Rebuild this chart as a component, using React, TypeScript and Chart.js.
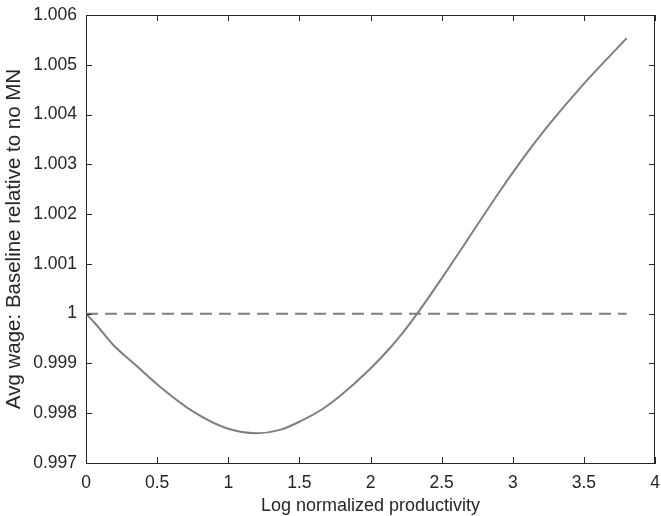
import React, { useEffect, useRef } from "react";
import { Chart, registerables } from "chart.js";

Chart.register(...registerables);

const productivity = [0, 0.0633, 0.1919, 0.3564, 0.5202, 0.7543, 0.9891, 1.2, 1.3638, 1.5044, 1.6682, 1.7856, 1.9965, 2.1371, 2.2306, 2.3269, 2.4886, 2.6763, 2.9104, 3.1213, 3.2619, 3.496, 3.8011];
const avgWage = [1.0, 0.999807, 0.999371, 0.998951, 0.998533, 0.998031, 0.997697, 0.997597, 0.997665, 0.997835, 0.998095, 0.998345, 0.998889, 0.999311, 0.999629, 0.999995, 1.000658, 1.001461, 1.002465, 1.003309, 1.003822, 1.004606, 1.005536];
const refX = [0, 3.8];
const refY = [1, 1];

const xTicks = [0, 0.5, 1, 1.5, 2, 2.5, 3, 3.5, 4];
const yTicks = [0.997, 0.998, 0.999, 1, 1.001, 1.002, 1.003, 1.004, 1.005, 1.006];

const xTitle = "Log normalized productivity";
const yTitle = "Avg wage: Baseline relative to no MN";

const AXIS = "#262626";
const LINE = "#7f7f7f";
const FONT = "'Liberation Sans', Arial, Helvetica, sans-serif";

const boxTicks = {
  id: "boxTicks",
  afterDraw(chart: any) {
    const { ctx, chartArea } = chart;
    const { left, right, top, bottom } = chartArea;
    const xs = chart.scales.x;
    const ys = chart.scales.y;
    const L = 6;
    ctx.save();
    ctx.strokeStyle = AXIS;
    ctx.lineWidth = 1;
    ctx.beginPath();
    ctx.moveTo(left, top + 0.5);
    ctx.lineTo(right, top + 0.5);
    ctx.moveTo(right - 0.5, top);
    ctx.lineTo(right - 0.5, bottom);
    xTicks.forEach((v) => {
      const p = Math.round(xs.getPixelForValue(v)) + 0.5;
      ctx.moveTo(p, bottom);
      ctx.lineTo(p, bottom - L);
      ctx.moveTo(p, top);
      ctx.lineTo(p, top + L);
    });
    yTicks.forEach((v) => {
      const p = Math.round(ys.getPixelForValue(v)) + 0.5;
      ctx.moveTo(left, p);
      ctx.lineTo(left + L, p);
      ctx.moveTo(right, p);
      ctx.lineTo(right - L, p);
    });
    ctx.stroke();
    ctx.restore();
  },
};

const zeroPad = (s: any) => {
  s.paddingLeft = 0;
  s.paddingRight = 0;
  s.paddingTop = 0;
  s.paddingBottom = 0;
};

export default function App() {
  const ref = useRef<HTMLCanvasElement>(null);
  useEffect(() => {
    if (!ref.current) return;
    const chart = new Chart(ref.current, {
      type: "scatter",
      data: {
        datasets: [
          {
            data: productivity.map((x, i) => ({ x, y: avgWage[i] })),
            showLine: true,
            borderColor: LINE,
            borderWidth: 2,
            pointRadius: 0,
            cubicInterpolationMode: "monotone",
            fill: false,
          },
          {
            data: refX.map((x, i) => ({ x, y: refY[i] })),
            showLine: true,
            borderColor: LINE,
            borderWidth: 2,
            borderDash: [12, 7],
            pointRadius: 0,
            fill: false,
          },
        ],
      },
      options: {
        animation: false,
        responsive: false,
        layout: { padding: { top: 15, right: 6, left: 0, bottom: 0 } },
        plugins: { legend: { display: false }, tooltip: { enabled: false } },
        scales: {
          x: {
            type: "linear",
            min: 0,
            max: 4,
            afterBuildTicks: (s: any) => {
              s.ticks = xTicks.map((v) => ({ value: v }));
            },
            afterFit: (s: any) => {
              s.height = 53;
              zeroPad(s);
            },
            grid: { display: false, drawTicks: false },
            border: { display: true, color: AXIS, width: 1 },
            ticks: {
              padding: 10,
              color: AXIS,
              font: { family: FONT, size: 17.5, lineHeight: 1.2 },
              callback: (v: any) => String(Number(Number(v).toFixed(3))),
              maxRotation: 0,
            },
            title: {
              display: true,
              text: xTitle,
              color: AXIS,
              font: { family: FONT, size: 18, lineHeight: 1 },
              padding: { top: 0, bottom: 0.5 },
            },
          },
          y: {
            type: "linear",
            min: 0.997,
            max: 1.006,
            afterBuildTicks: (s: any) => {
              s.ticks = yTicks.map((v) => ({ value: v }));
            },
            afterFit: (s: any) => {
              s.width = 86;
              zeroPad(s);
            },
            grid: { display: false, drawTicks: false },
            border: { display: true, color: AXIS, width: 1 },
            ticks: {
              padding: 9,
              color: AXIS,
              font: { family: FONT, size: 17.5, lineHeight: 1.2 },
              callback: (v: any) => String(Number(Number(v).toFixed(3))),
            },
            title: {
              display: true,
              text: yTitle,
              color: AXIS,
              font: { family: FONT, size: 20.5, lineHeight: 1 },
              padding: { top: 4, bottom: 0 },
            },
          },
        },
      },
      plugins: [boxTicks],
    });
    return () => chart.destroy();
  }, []);
  return (
    <div style={{ position: "absolute", left: 0, top: 0, width: 661, height: 516, background: "#fff" }}>
      <canvas ref={ref} width={661} height={516} style={{ display: "block" }} />
    </div>
  );
}
